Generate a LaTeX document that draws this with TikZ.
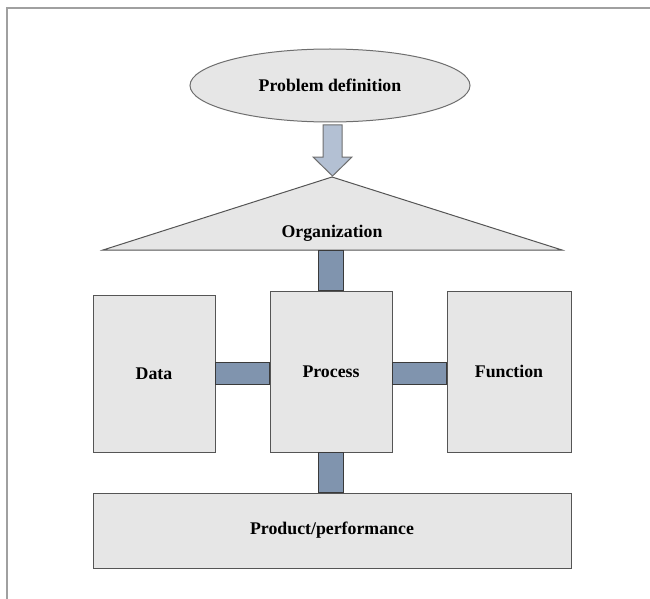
\documentclass[tikz,border=0pt]{standalone}
\usepackage{fontspec}
\setmainfont{Liberation Serif}
\usetikzlibrary{shapes.geometric,calc}
\definecolor{boxfill}{HTML}{E6E6E6}
\definecolor{boxline}{HTML}{555555}
\definecolor{connfill}{HTML}{8094AE}
\definecolor{connline}{HTML}{3A3A3A}
\definecolor{arrfill}{HTML}{B3C0D3}
\definecolor{arrline}{HTML}{6E6E6E}
\definecolor{frameline}{HTML}{A0A0A0}
\tikzset{
  lbl/.style={font=\fontsize{17.8}{20}\selectfont\bfseries, text=black},
  blk/.style={draw=boxline, fill=boxfill, line width=1pt, inner sep=0pt, lbl},
  conn/.style={draw=connline, fill=connfill, line width=1pt},
}
\begin{document}
\begin{tikzpicture}[x=1pt,y=-1pt]
\useasboundingbox (0,0) rectangle (650,599);
% frame
\draw[frameline, line width=1.5pt] (7,599) -- (7,8) -- (650,8);
% problem definition
\node[blk, ellipse, draw=arrline, minimum width=280, minimum height=73] (prob) at (330,85.5) {Problem definition};
% block arrow
\coordinate (tip) at (332.5,176);
\draw[draw=arrline, fill=arrfill, line width=1pt]
  (323,125) -- (342,125) -- (342,157) -- (352,157) -- (tip) -- (313,157) -- (323,157) -- cycle;
% organization triangle
\coordinate (apex) at (332,177);
\coordinate (orgl) at (103,250);
\coordinate (orgr) at (562,250);
\draw[draw=boxline, fill=boxfill, line width=1pt] (orgl) -- (apex) -- (orgr) -- cycle;
\node[lbl] (org) at (332,233) {Organization};
% boxes
\node[blk, minimum width=122, minimum height=157] (data) at (154,373.5) {Data};
\node[blk, minimum width=122, minimum height=161] (proc) at (331,371.5) {Process};
\node[blk, minimum width=124, minimum height=161] (func) at (509,371.5) {Function};
\node[blk, minimum width=478, minimum height=75] (prod) at (332,530.5) {Product/performance};
% connectors
\draw[conn] (318,250) rectangle (343,0 |- proc.north);
\draw[conn] (data.east |- 0,362) rectangle (proc.west |- 0,384);
\draw[conn] (proc.east |- 0,362) rectangle (func.west |- 0,384);
\draw[conn] (318,0 |- proc.south) rectangle (343,0 |- prod.north);
\end{tikzpicture}
\end{document}
